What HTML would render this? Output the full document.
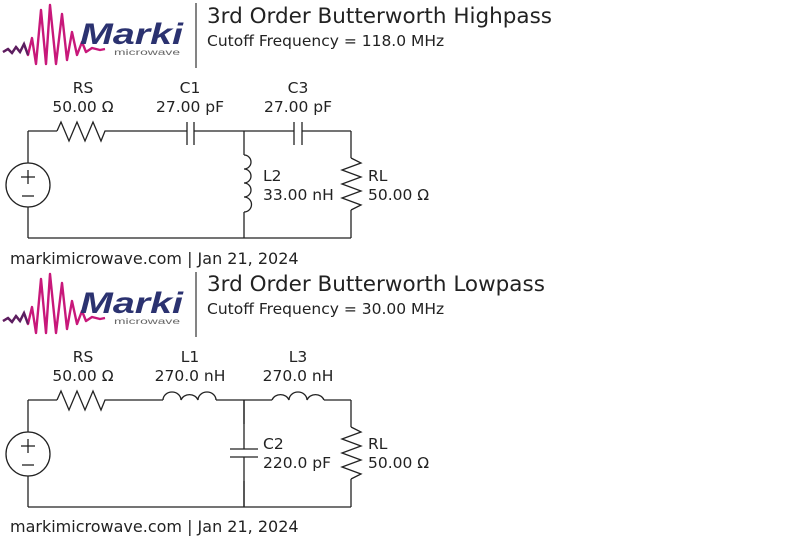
<!DOCTYPE html>
<html><head><meta charset="utf-8"><style>
body{margin:0;background:#fff;width:800px;height:537px;overflow:hidden}
svg text{font-family:"DejaVu Sans","Liberation Sans",sans-serif;fill:#222}
</style></head><body>
<svg width="800" height="537" viewBox="0 0 800 537" xmlns="http://www.w3.org/2000/svg">
<defs>
<g id="logo">
  <path d="M3,52 L8,49 12,53 16,47 20,52 24,44 28,55 32,38 36,64 41,10 46,64 50,5 56,64 62,14 67,60 72,32 77,55 82,42 86,52 92,48 100,50 105,49" fill="none" stroke="#c8187a" stroke-width="2.4" stroke-linejoin="round"/>
  <path d="M3,52 L8,49 12,53 16,47 20,52 24,44 28,55" fill="none" stroke="#5a2060" stroke-width="2.4"/>
  <text x="80" y="44" textLength="103" lengthAdjust="spacingAndGlyphs" style="font-family:'Liberation Sans',sans-serif;font-weight:bold;font-style:italic;font-size:30px;fill:#2b3270">Marki</text>
  <text x="114" y="55" textLength="66" lengthAdjust="spacingAndGlyphs" style="font-family:'Liberation Sans',sans-serif;font-size:8px;fill:#666">microwave</text>
  <line x1="196" y1="3" x2="196" y2="68" stroke="#333" stroke-width="1.2"/>
</g>
<g id="common" fill="none" stroke="#222" stroke-width="1.3">
  <circle cx="28" cy="185" r="22"/>
  <line x1="28" y1="131" x2="28" y2="163"/>
  <line x1="28" y1="207" x2="28" y2="238"/>
  <line x1="28" y1="238" x2="351" y2="238"/>
  <line x1="28" y1="131" x2="57" y2="131"/>
  <polyline points="57,131 61,122 69,141 77,122 85,141 93,122 101,141 105,131 108,131"/>
  <line x1="108" y1="131" x2="140" y2="131"/>
  <line x1="244" y1="131" x2="244" y2="155"/>
  <line x1="244" y1="212" x2="244" y2="238"/>
  <line x1="351" y1="131" x2="351" y2="158"/>
  <polyline points="351,158 361,163 342,170 361,177 342,184 361,191 342,198 361,205 351,210"/>
  <line x1="351" y1="210" x2="351" y2="238"/>
  <line x1="21" y1="177" x2="35" y2="177"/><line x1="28" y1="170" x2="28" y2="184"/>
  <line x1="22" y1="196" x2="34" y2="196"/>
</g>
</defs>

<!-- TOP -->
<use href="#logo"/>
<text x="207" y="23" font-size="21.5">3rd Order Butterworth Highpass</text>
<text x="207" y="46" font-size="15.5">Cutoff Frequency = 118.0 MHz</text>
<use href="#common"/>
<g fill="none" stroke="#222" stroke-width="1.3">
  <line x1="140" y1="131" x2="187" y2="131"/>
  <line x1="187" y1="122" x2="187" y2="145"/><line x1="194" y1="122" x2="194" y2="145"/>
  <line x1="194" y1="131" x2="294" y2="131"/>
  <line x1="294" y1="122" x2="294" y2="145"/><line x1="302" y1="122" x2="302" y2="145"/>
  <line x1="302" y1="131" x2="351" y2="131"/>
  <path d="M244,155 a7,7 0 0 1 0,14 a7,7 0 0 1 0,14 a7,7 0 0 1 0,14 a7,7 0 0 1 0,15"/>
</g>
<g font-size="15.5" text-anchor="middle">
  <text x="83" y="93">RS</text><text x="83" y="112">50.00 Ω</text>
  <text x="190" y="93">C1</text><text x="190" y="112">27.00 pF</text>
  <text x="298" y="93">C3</text><text x="298" y="112">27.00 pF</text>
</g>
<g font-size="15.5">
  <text x="263" y="181">L2</text><text x="263" y="200">33.00 nH</text>
  <text x="368" y="181">RL</text><text x="368" y="200">50.00 Ω</text>
  <text x="10" y="264" font-size="16">markimicrowave.com | Jan 21, 2024</text>
</g>

<!-- BOTTOM -->
<g transform="translate(0,269)">
<use href="#logo"/>
<text x="207" y="22" font-size="21.5">3rd Order Butterworth Lowpass</text>
<text x="207" y="45" font-size="15.5">Cutoff Frequency = 30.00 MHz</text>
<use href="#common"/>
<g fill="none" stroke="#222" stroke-width="1.3">
  <line x1="140" y1="131" x2="163" y2="131"/>
  <path d="M163,131 a9,8 0 0 1 18,0 a9,8 0 0 1 17,0 a9,8 0 0 1 18,0"/>
  <line x1="216" y1="131" x2="272" y2="131"/>
  <path d="M272,131 a9,8 0 0 1 17,0 a9,8 0 0 1 18,0 a9,8 0 0 1 17,0"/>
  <line x1="324" y1="131" x2="351" y2="131"/>
  <line x1="244" y1="131" x2="244" y2="180"/>
  <line x1="230" y1="180" x2="258" y2="180"/><line x1="230" y1="188" x2="258" y2="188"/>
  <line x1="244" y1="188" x2="244" y2="238"/>
</g>
<g font-size="15.5" text-anchor="middle">
  <text x="83" y="93">RS</text><text x="83" y="112">50.00 Ω</text>
  <text x="190" y="93">L1</text><text x="190" y="112">270.0 nH</text>
  <text x="298" y="93">L3</text><text x="298" y="112">270.0 nH</text>
</g>
<g font-size="15.5">
  <text x="263" y="180">C2</text><text x="263" y="199">220.0 pF</text>
  <text x="368" y="180">RL</text><text x="368" y="199">50.00 Ω</text>
  <text x="10" y="263" font-size="16">markimicrowave.com | Jan 21, 2024</text>
</g>
</g>
</svg>
</body></html>
